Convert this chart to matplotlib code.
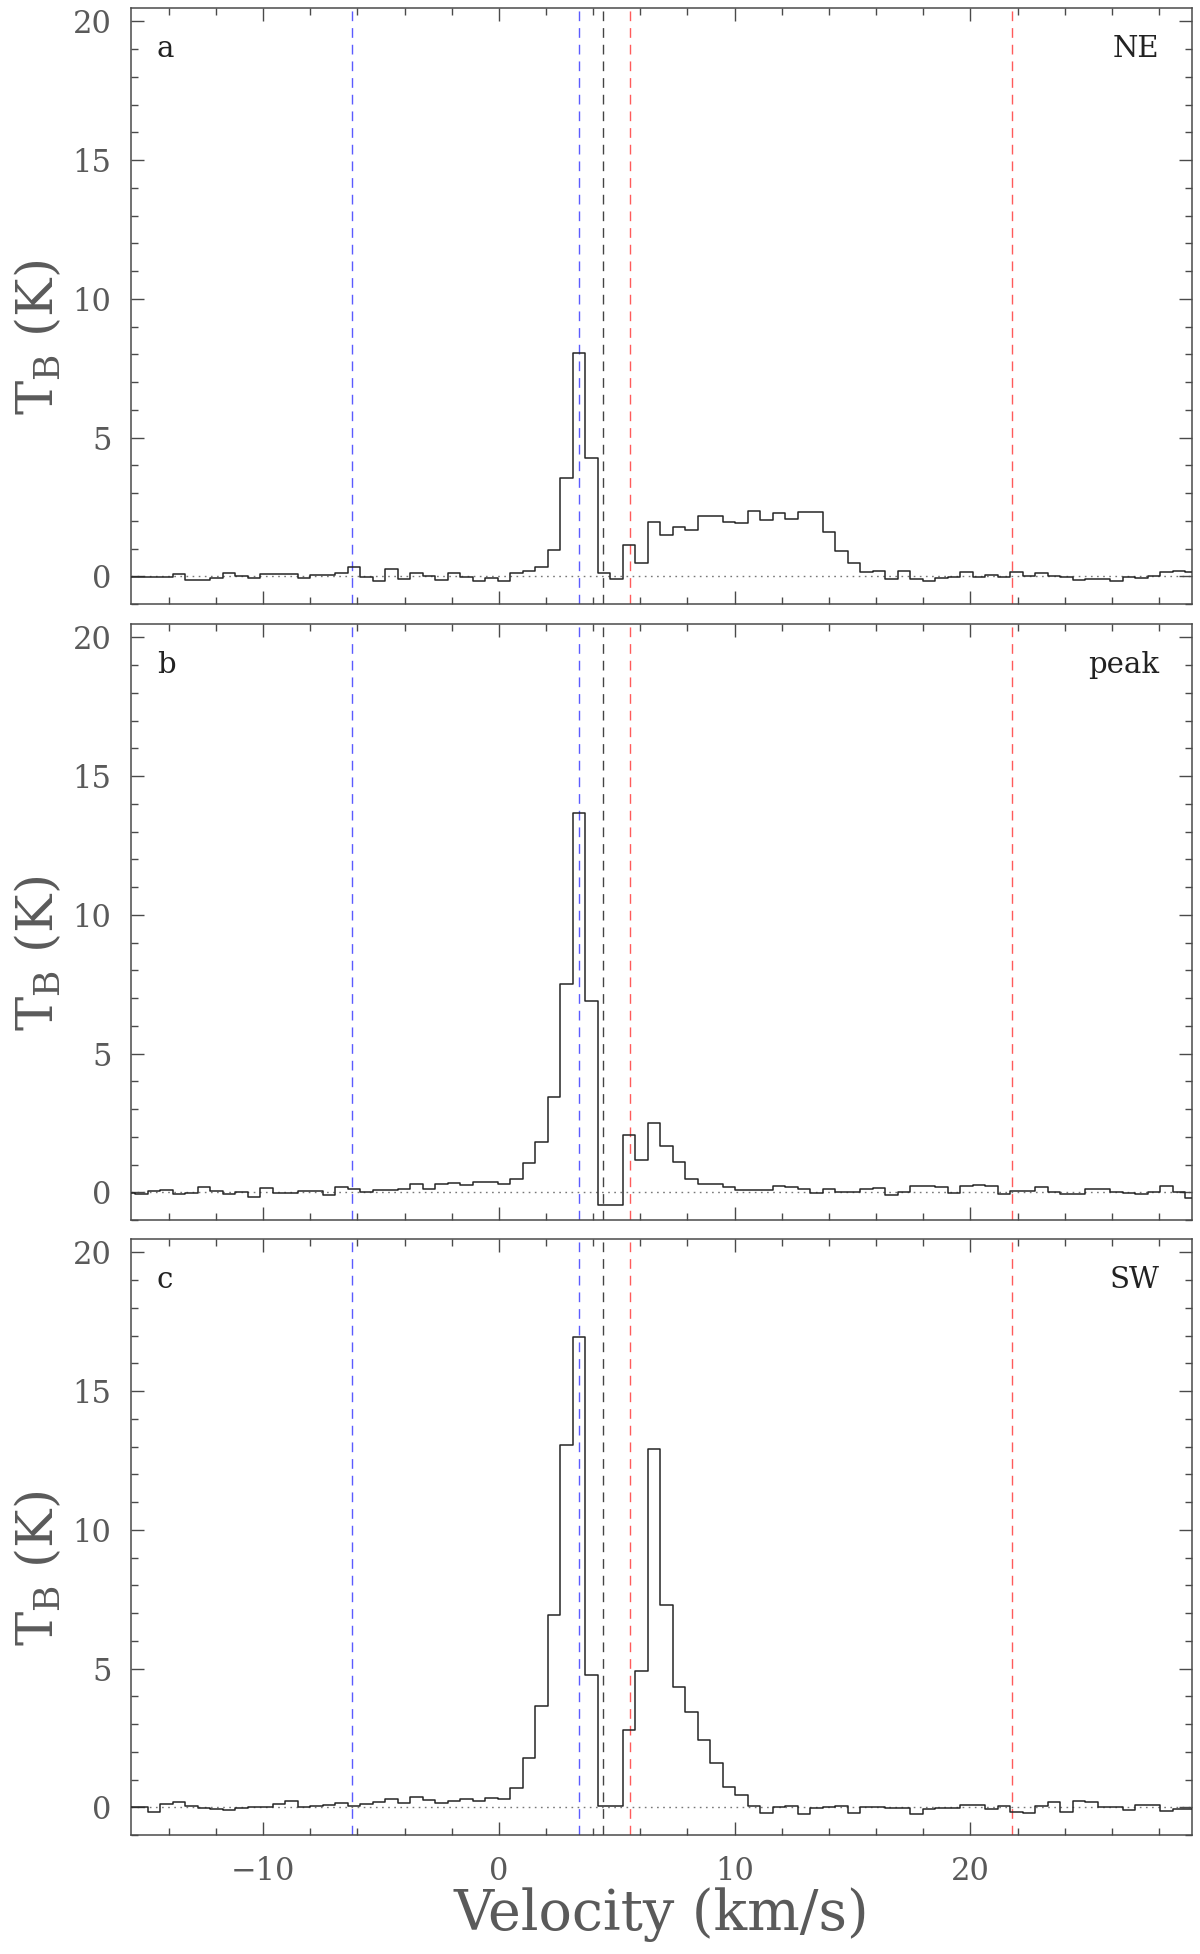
import matplotlib
matplotlib.use('Agg')
import matplotlib.pyplot as plt
from matplotlib.ticker import MultipleLocator

# channel centres (km/s), shared by the three spectra
VELOCITY = [-15.68, -15.15, -14.62, -14.09, -13.56, -13.03, -12.50, -11.97, -11.44, -10.91,
            -10.38, -9.85, -9.32, -8.79, -8.26, -7.73, -7.20, -6.67, -6.14, -5.61,
            -5.08, -4.55, -4.02, -3.49, -2.96, -2.43, -1.90, -1.37, -0.84, -0.31,
            0.22, 0.75, 1.28, 1.81, 2.34, 2.87, 3.40, 3.93, 4.46, 4.99,
            5.52, 6.05, 6.58, 7.11, 7.64, 8.17, 8.70, 9.23, 9.76, 10.29,
            10.82, 11.35, 11.88, 12.41, 12.94, 13.47, 14.00, 14.53, 15.06, 15.59,
            16.12, 16.65, 17.18, 17.71, 18.24, 18.77, 19.30, 19.83, 20.36, 20.89,
            21.42, 21.95, 22.48, 23.01, 23.54, 24.07, 24.60, 25.13, 25.66, 26.19,
            26.72, 27.25, 27.78, 28.31, 28.84, 29.37, 29.90]

TB_NE = [-0.02, -0.04, -0.04, -0.04, 0.08, -0.12, -0.12, -0.08, 0.13, 0.01,
         -0.05, 0.08, 0.08, 0.08, -0.05, 0.05, 0.05, 0.10, 0.35, -0.02,
         -0.18, 0.25, -0.10, 0.11, 0.01, -0.13, 0.12, -0.02, -0.17, -0.06,
         -0.18, 0.12, 0.20, 0.32, 0.95, 3.54, 8.03, 4.26, 0.12, -0.10,
         1.11, 0.48, 1.97, 1.50, 1.77, 1.68, 2.17, 2.17, 1.97, 1.91,
         2.35, 2.01, 2.27, 2.07, 2.31, 2.31, 1.59, 0.90, 0.47, 0.17,
         0.20, -0.11, 0.20, -0.10, -0.18, -0.07, -0.04, 0.17, -0.04, 0.06,
         -0.04, 0.14, 0.02, 0.11, 0.00, -0.04, -0.13, -0.10, -0.10, -0.18,
         -0.01, -0.07, 0.00, 0.17, 0.20, 0.14, 0.14]

TB_PEAK = [-0.02, -0.06, 0.04, 0.08, -0.06, -0.01, 0.20, 0.06, -0.08, 0.00,
           -0.18, 0.17, -0.01, -0.01, 0.06, 0.06, -0.10, 0.18, 0.10, 0.00,
           0.08, 0.08, 0.13, 0.29, 0.13, 0.30, 0.32, 0.26, 0.38, 0.36,
           0.30, 0.48, 1.06, 1.80, 3.45, 7.50, 13.67, 6.90, -0.45, -0.45,
           2.06, 1.16, 2.48, 1.68, 1.10, 0.49, 0.30, 0.30, 0.19, 0.07,
           0.07, 0.07, 0.22, 0.18, 0.13, -0.02, 0.12, 0.00, 0.00, 0.12,
           0.14, -0.10, 0.02, 0.22, 0.24, 0.18, -0.01, 0.22, 0.26, 0.24,
           -0.06, 0.06, 0.06, 0.18, 0.02, -0.05, -0.05, 0.10, 0.12, 0.02,
           -0.02, -0.08, 0.00, 0.22, 0.00, -0.20, -0.20]

TB_SW = [0.02, 0.02, -0.18, 0.12, 0.19, 0.04, -0.02, -0.06, -0.10, -0.02,
         0.02, 0.00, 0.10, 0.22, 0.01, 0.04, 0.07, 0.17, 0.04, 0.12,
         0.20, 0.28, 0.17, 0.36, 0.25, 0.14, 0.24, 0.28, 0.24, 0.33,
         0.28, 0.68, 1.77, 3.64, 6.94, 13.04, 16.95, 4.78, 0.06, 0.03,
         2.78, 4.91, 12.91, 7.30, 4.33, 3.42, 2.43, 1.61, 0.74, 0.43,
         0.06, -0.19, 0.00, 0.04, -0.26, -0.03, 0.00, 0.04, -0.22, 0.00,
         0.00, -0.02, -0.02, -0.24, -0.06, -0.04, -0.02, 0.08, 0.08, -0.06,
         0.04, -0.16, -0.22, 0.04, 0.18, -0.18, 0.24, 0.20, 0.00, 0.00,
         -0.10, 0.08, 0.08, -0.12, -0.06, -0.06, -0.06]

PANEL_LETTERS = ['a', 'b', 'c']
PANEL_NAMES = ['NE', 'peak', 'SW']
PANEL_DATA = [TB_NE, TB_PEAK, TB_SW]

V_BLUE = [-6.21, 3.39]
V_SYS = 4.40
V_RED = [5.58, 21.75]

plt.rcParams['font.family'] = ['DejaVu Serif']
plt.rcParams['mathtext.fontset'] = 'dejavuserif'

W, H = 1200, 1954
fig = plt.figure(figsize=(W / 100, H / 100), dpi=100)

frame_col = '#4a4a4a'
text_col = '#5a5a5a'
left_px, width_px, height_px = 131, 1061, 596
tops_px = [8, 624, 1239]

for i, (letter, name, tb) in enumerate(zip(PANEL_LETTERS, PANEL_NAMES, PANEL_DATA)):
    bottom = 1 - (tops_px[i] + height_px) / H
    ax = fig.add_axes([left_px / W, bottom, width_px / W, height_px / H])

    ax.axhline(0, color='#777777', lw=1.0, ls=(0, (1.2, 3.2)), zorder=1)
    for v in V_BLUE:
        ax.axvline(v, color='#5b5bff', lw=1.0, dashes=(7, 5), zorder=2)
    ax.axvline(V_SYS, color='#444444', lw=1.0, dashes=(7, 5), zorder=2)
    for v in V_RED:
        ax.axvline(v, color='#ff5b5b', lw=1.0, dashes=(7, 5), zorder=2)

    ax.step(VELOCITY, tb, where='mid', color='#262626', lw=1.1, zorder=3)

    ax.set_xlim(-15.6, 29.4)
    ax.set_ylim(-1.0, 20.48)
    ax.xaxis.set_major_locator(MultipleLocator(10))
    ax.xaxis.set_minor_locator(MultipleLocator(2))
    ax.yaxis.set_major_locator(MultipleLocator(5))
    ax.yaxis.set_minor_locator(MultipleLocator(1))
    ax.tick_params(which='both', direction='in', top=True, right=True,
                   color=frame_col, width=1.0, labelcolor=text_col, labelsize=22)
    ax.tick_params(which='major', length=9.5, pad=14)
    ax.tick_params(which='minor', length=5)
    for sp in ax.spines.values():
        sp.set_color(frame_col)
        sp.set_linewidth(1.1)

    if i < 2:
        ax.tick_params(labelbottom=False)
    else:
        ax.tick_params(axis='x', pad=15)
        ax.set_xlabel('Velocity (km/s)', fontsize=40, color=text_col, labelpad=0)

    ax.set_ylabel(r'$\mathrm{T_B}$ (K)', fontsize=37, color=text_col)
    ax.yaxis.set_label_coords(-0.063, 0.448)

    ax.text(0.0245, 0.931, letter, transform=ax.transAxes, fontsize=21,
            color='#222222', ha='left', va='center')
    ax.text(0.969, 0.931, name, transform=ax.transAxes, fontsize=21,
            color='#222222', ha='right', va='center')

fig.savefig('out.png', dpi=100)
